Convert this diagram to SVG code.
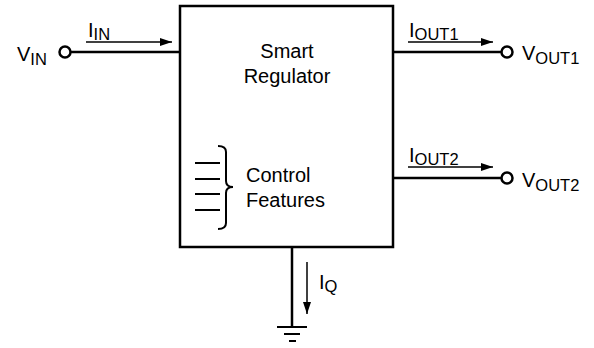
<svg xmlns="http://www.w3.org/2000/svg" width="594" height="348" viewBox="0 0 594 348">
<defs>
<marker id="ah" viewBox="0 0 12 8" refX="12" refY="4" markerWidth="12" markerHeight="8" markerUnits="userSpaceOnUse" orient="auto">
<path d="M0,0 L12,4 L0,8 Z" fill="#000"/>
</marker>
</defs>
<style>
text{font-family:"Liberation Sans",Arial,sans-serif;fill:#000;font-size:20px}
.sub{font-size:16.5px}
.wire{stroke:#000;stroke-width:2.5;fill:none}
.cur{stroke:#000;stroke-width:1.5;fill:none}
.thin{stroke:#000;stroke-width:2;fill:none}
.pin{stroke:#000;stroke-width:2.5;fill:#fff}
</style>
<rect width="594" height="348" fill="#fff"/>
<g id="regulator">
<rect x="180" y="6" width="213" height="241" class="wire"/>
<text x="287" y="58" text-anchor="middle">Smart</text>
<text x="287" y="83" text-anchor="middle">Regulator</text>
</g>
<g id="control-features">
<path d="M195,163H220M195,179H220M195,194H220M195,210H220" class="thin"/>
<path d="M218,146 C224,146 226,148 226,152 V181 C226,185 228,187 233,187 C228,187 226,189 226,193 V223 C226,227 224,229 218,229" class="thin"/>
<text x="246" y="182">Control</text>
<text x="246" y="207">Features</text>
</g>
<g id="vin">
<circle cx="65" cy="52" r="5.5" class="pin"/>
<text x="17" y="61">V<tspan class="sub" dy="4">IN</tspan></text>
</g>
<g id="vout1">
<circle cx="507" cy="52" r="5.5" class="pin"/>
<text x="522" y="60">V<tspan class="sub" dy="4">OUT1</tspan></text>
</g>
<g id="vout2">
<circle cx="507" cy="178" r="5.5" class="pin"/>
<text x="522" y="187">V<tspan class="sub" dy="4">OUT2</tspan></text>
</g>
<g id="ground">
<path d="M277,327H307M284,334H300M289,341H296" class="thin"/>
</g>
<g id="connectors">
<path d="M70.5,52H180" class="wire"/>
<path d="M393,52H501.5" class="wire"/>
<path d="M393,178H501.5" class="wire"/>
<path d="M292,247V327" class="wire"/>
<path d="M86,42H172" class="cur" marker-end="url(#ah)"/>
<path d="M408,42H493" class="cur" marker-end="url(#ah)"/>
<path d="M408,167H493" class="cur" marker-end="url(#ah)"/>
<path d="M307,262V314" class="cur" marker-end="url(#ah)"/>
<text x="88" y="37">I<tspan class="sub" dy="3">IN</tspan></text>
<text x="409" y="37">I<tspan class="sub" dy="3">OUT1</tspan></text>
<text x="409" y="162">I<tspan class="sub" dy="3">OUT2</tspan></text>
<text x="319" y="289">I<tspan class="sub" dy="3">Q</tspan></text>
</g>
</svg>
